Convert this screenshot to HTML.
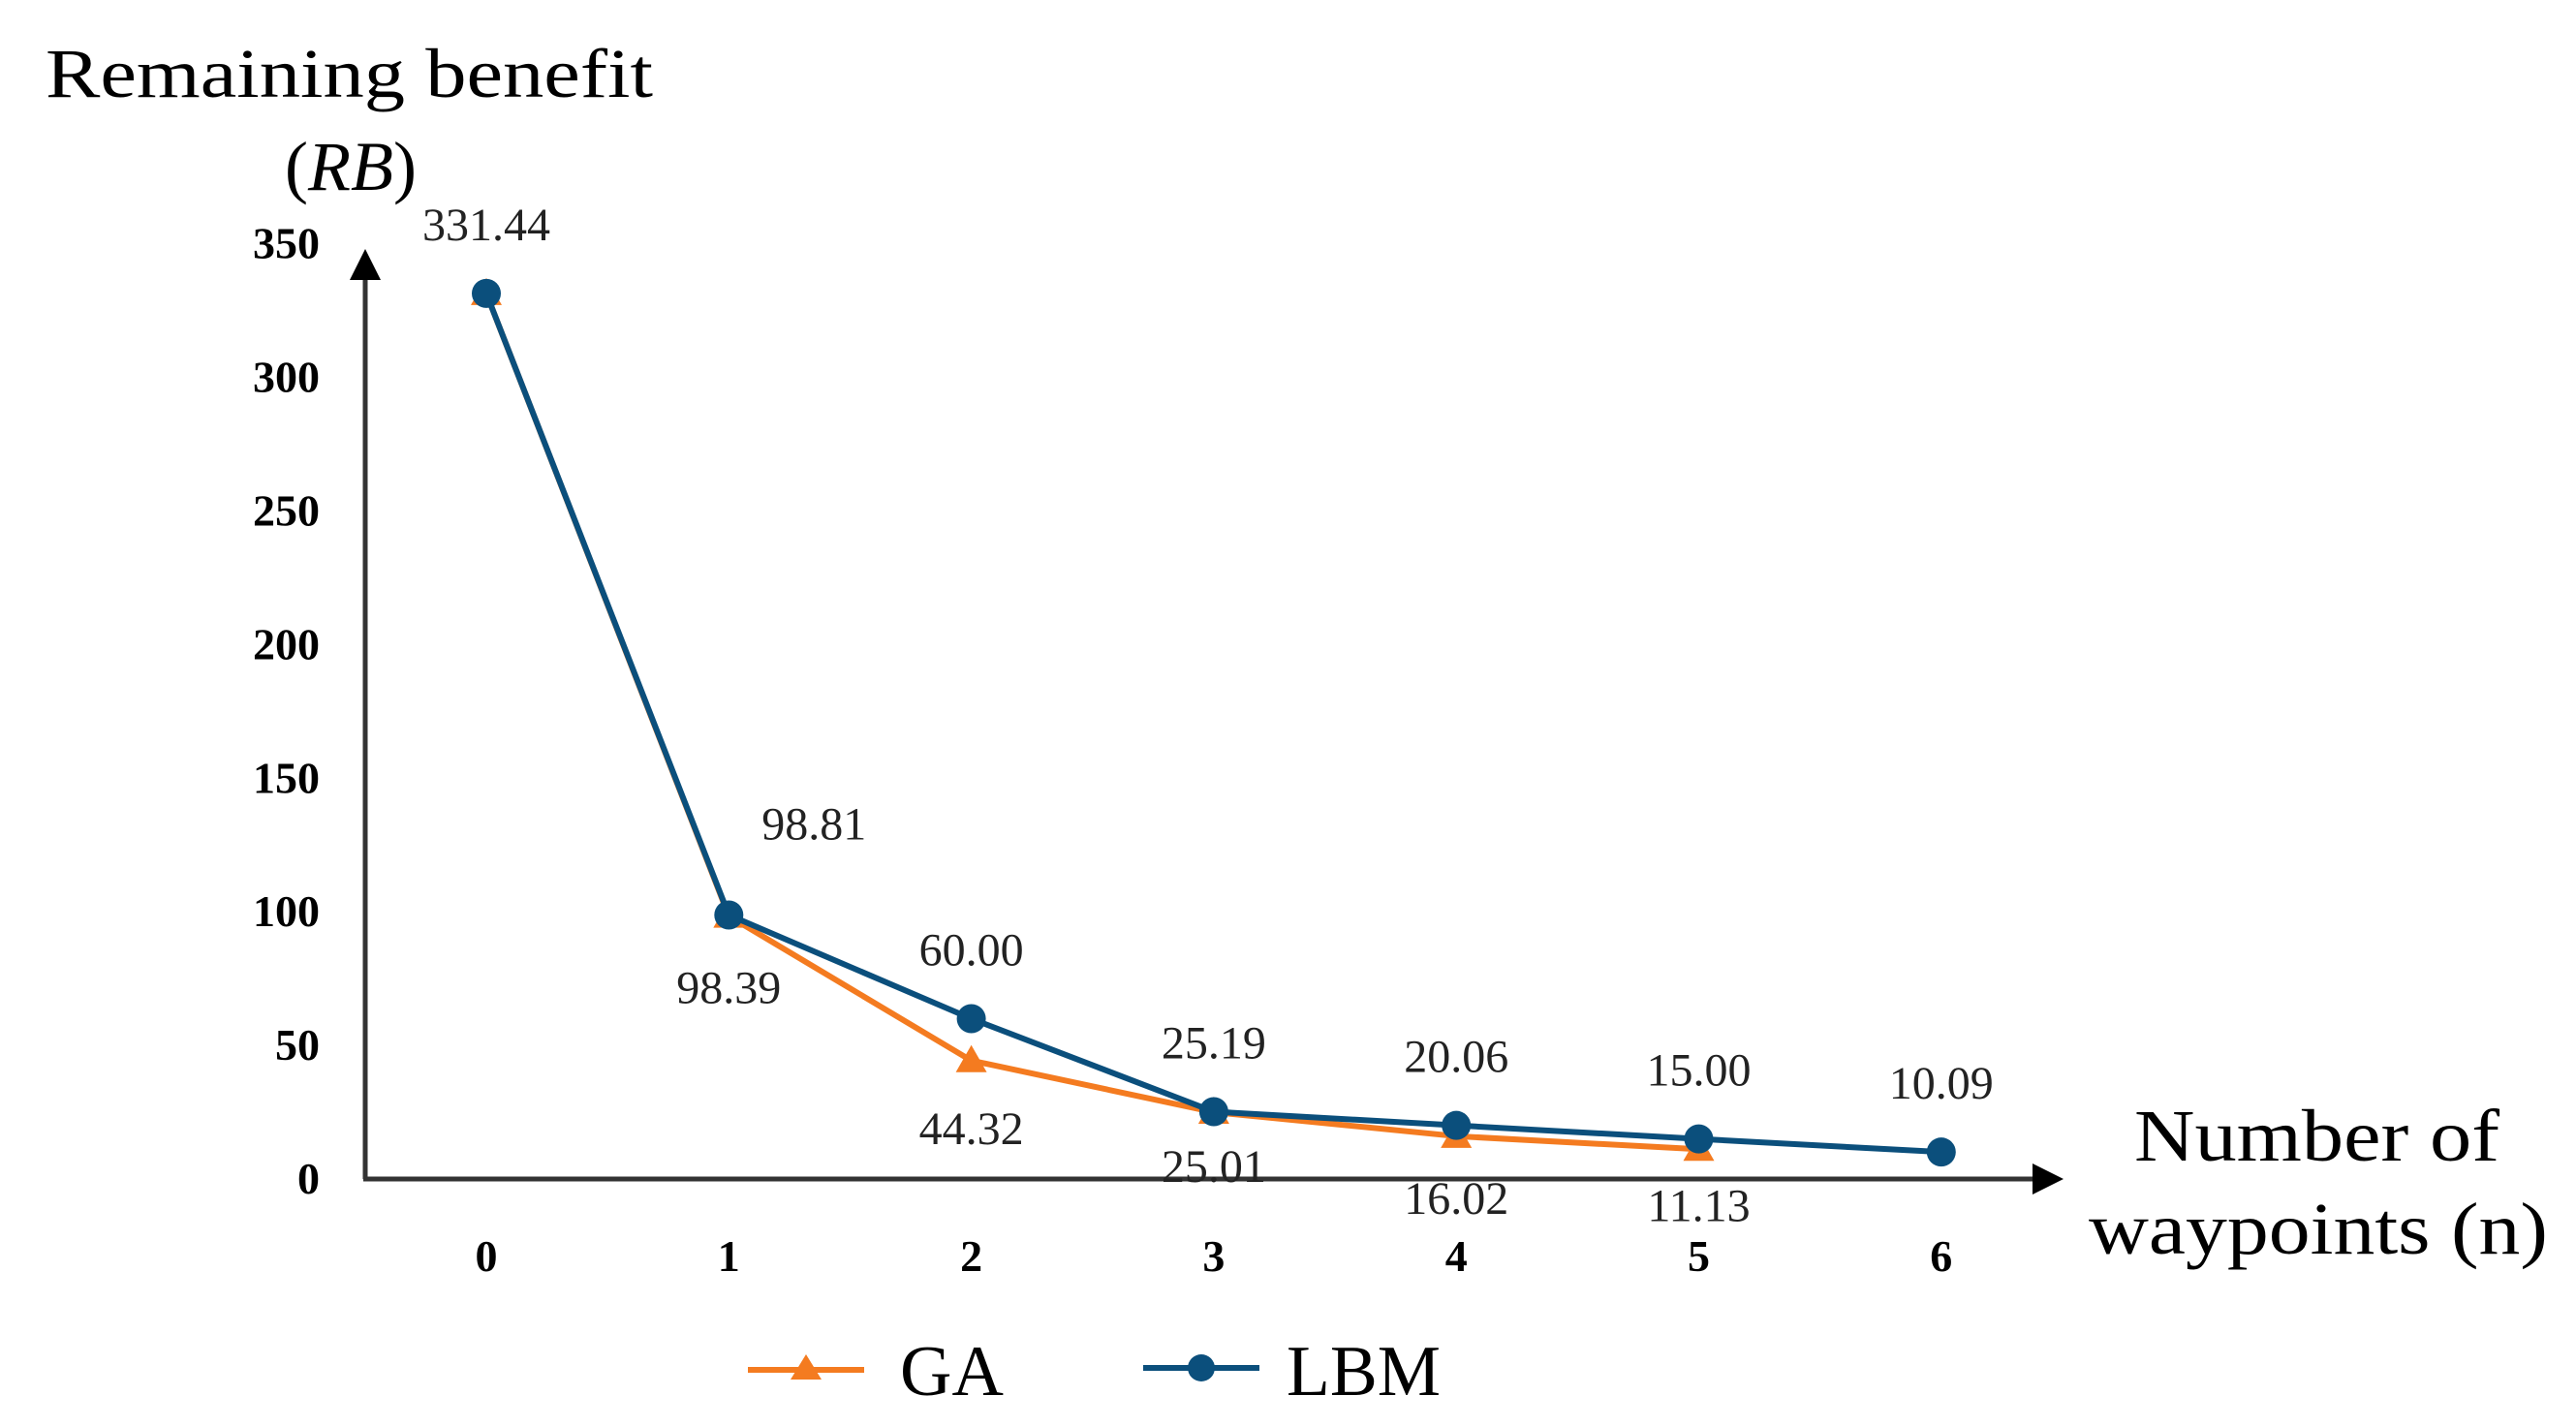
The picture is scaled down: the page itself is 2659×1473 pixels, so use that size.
<!DOCTYPE html>
<html><head><meta charset="utf-8"><style>
html,body{margin:0;padding:0;background:#fff;}
svg{display:block;}
</style></head><body>
<svg id="chart" width="2659" height="1473" viewBox="0 0 2659 1473" xmlns="http://www.w3.org/2000/svg">
<g font-family="Liberation Serif, serif" fill="#000">
<text x="47" y="100" font-size="72" textLength="627" lengthAdjust="spacingAndGlyphs">Remaining benefit</text>
<text x="362" y="196" font-size="72" text-anchor="middle">(<tspan font-style="italic">RB</tspan>)</text>
</g>
<g font-family="Liberation Serif, serif" font-size="76" fill="#000">
<text x="2203" y="1198" textLength="377" lengthAdjust="spacingAndGlyphs">Number of</text>
<text x="2156" y="1294" textLength="474" lengthAdjust="spacingAndGlyphs">waypoints (n)</text>
</g>
<g id="axes"></g>
<g id="series"></g>
<g id="labels"></g>
<g>
<g>
<line x1="772" y1="1414" x2="892" y2="1414" stroke="#F47B20" stroke-width="6"/>
<polygon points="832,1398 848,1424 816,1424" fill="#F47B20"/>
<text x="929" y="1440" font-family="Liberation Serif, serif" font-size="74">GA</text>
</g>
<g>
<line x1="1180" y1="1412" x2="1300" y2="1412" stroke="#0B4F7C" stroke-width="6"/>
<circle cx="1240" cy="1412" r="14" fill="#0B4F7C"/>
<text x="1328" y="1440" font-family="Liberation Serif, serif" font-size="74" textLength="159" lengthAdjust="spacingAndGlyphs">LBM</text>
</g>
</g>
</svg>
<script>
const categories = [0,1,2,3,4,5,6];
const gaValues = [331.44, 98.39, 44.32, 25.01, 16.02, 11.13];
const lbmValues = [331.44, 98.81, 60.00, 25.19, 20.06, 15.00, 10.09];
const gaLabels = ["", "98.39", "44.32", "25.01", "16.02", "11.13"];
const lbmLabels = ["331.44", "98.81", "60.00", "25.19", "20.06", "15.00", "10.09"];
const yTicks = [0,50,100,150,200,250,300,350];

const NS = "http://www.w3.org/2000/svg";
const X0 = 377, Y0 = 1217;
function xs(i){ return 502 + 250.3*i; }
function ys(v){ return Y0 - v*2.758; }
function mk(tag, attrs, parent){
  const e = document.createElementNS(NS, tag);
  for (const k in attrs) e.setAttribute(k, attrs[k]);
  parent.appendChild(e); return e;
}
const axes = document.getElementById('axes');
const series = document.getElementById('series');
const labels = document.getElementById('labels');

const ya = mk('line', {x1:X0, y1:Y0, x2:X0, y2:268, stroke:'#333', 'stroke-width':5}, axes);


const yarr = mk('polygon', {points:`${X0},257 ${X0-16},289 ${X0+16},289`, fill:'#000'}, axes);


const xa = mk('line', {x1:X0-2, y1:Y0, x2:2115, y2:Y0, stroke:'#333', 'stroke-width':5}, axes);


const xarr = mk('polygon', {points:`2130,${Y0} 2098,${Y0-16} 2098,${Y0+16}`, fill:'#000'}, axes);



yTicks.forEach(t => {
  const e = mk('text', {x:330, y:ys(t)+15, 'text-anchor':'end', 'font-family':'Liberation Serif, serif', 'font-weight':'bold', 'font-size':46}, axes);
  e.textContent = t;
  
  
});
categories.forEach((c,i) => {
  const e = mk('text', {x:xs(i), y:1312, 'text-anchor':'middle', 'font-family':'Liberation Serif, serif', 'font-weight':'bold', 'font-size':46}, axes);
  e.textContent = c;
  
  
});

const gaLine = mk('polyline', {points: gaValues.map((v,i)=>xs(i)+','+ys(v)).join(' '), fill:'none', stroke:'#F47B20', 'stroke-width':6}, series);


gaValues.forEach((v,i) => {
  const x = xs(i), y = ys(v);
  const p = mk('polygon', {points:`${x},${y-16} ${x+16},${y+12} ${x-16},${y+12}`, fill:'#F47B20'}, series);
  
  
});
const lbmLine = mk('polyline', {points: lbmValues.map((v,i)=>xs(i)+','+ys(v)).join(' '), fill:'none', stroke:'#0B4F7C', 'stroke-width':6}, series);


lbmValues.forEach((v,i) => {
  const c = mk('circle', {cx:xs(i), cy:ys(v), r:15, fill:'#0B4F7C'}, series);
  
  
});

const lbmOff = [[0,-55],[88,-78],[0,-55],[0,-55],[0,-55],[0,-55],[0,-55]];
lbmLabels.forEach((t,i) => {
  if (!t) return;
  const e = mk('text', {x:xs(i)+lbmOff[i][0], y:ys(lbmValues[i])+lbmOff[i][1], 'text-anchor':'middle', 'font-family':'Liberation Serif, serif', 'font-size':48, fill:'#222'}, labels);
  e.textContent = t;
  
  
});
const gaOff = [[0,0],[0,90],[0,86],[0,72],[0,80],[0,74]];
gaLabels.forEach((t,i) => {
  if (!t) return;
  const e = mk('text', {x:xs(i)+gaOff[i][0], y:ys(gaValues[i])+gaOff[i][1], 'text-anchor':'middle', 'font-family':'Liberation Serif, serif', 'font-size':48, fill:'#222'}, labels);
  e.textContent = t;
  
  
});
</script>
</body></html>
